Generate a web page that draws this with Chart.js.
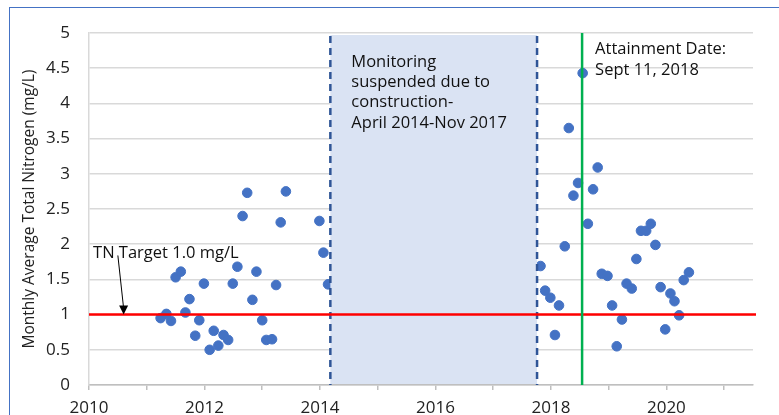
<!DOCTYPE html>
<html>
<head>
<meta charset="utf-8">
<script src="https://cdn.jsdelivr.net/npm/chart.js@4"></script>
<style>
  html, body { margin: 0; padding: 0; background: #fff; overflow: hidden; }
  #wrap { position: relative; width: 779px; height: 415px; overflow: hidden; }
  #frame { position: absolute; left: 9px; top: 7px; width: 820px; height: 460px;
           border-top: 1.5px solid #4472c4; border-left: 1.5px solid #4472c4; }
  #tnChart { position: absolute; left: 0; top: 0; }
</style>
</head>
<body>
<div id="wrap">
  <div id="frame"></div>
  <canvas id="tnChart" width="779" height="425"></canvas>
</div>
<script>
// sample dates as decimal years, monthly average TN (mg/L)
const sampleDates = [2011.24, 2011.34, 2011.42, 2011.50, 2011.59, 2011.67, 2011.74, 2011.84, 2011.91, 2011.99,
  2012.09, 2012.16, 2012.24, 2012.33, 2012.41, 2012.49, 2012.57, 2012.66, 2012.74, 2012.83,
  2012.90, 2013.00, 2013.07, 2013.17, 2013.24, 2013.32, 2013.41, 2013.99, 2014.06, 2014.14,
  2017.82, 2017.90, 2017.99, 2018.07, 2018.14, 2018.24, 2018.31, 2018.39, 2018.47, 2018.55,
  2018.64, 2018.73, 2018.81, 2018.88, 2018.98, 2019.06, 2019.14, 2019.23, 2019.31, 2019.40,
  2019.48, 2019.56, 2019.65, 2019.73, 2019.81, 2019.90, 2019.98, 2020.07, 2020.14, 2020.22,
  2020.30, 2020.39];
const tnValues = [0.95, 1.01, 0.91, 1.53, 1.61, 1.03, 1.22, 0.70, 0.92, 1.44,
  0.50, 0.77, 0.56, 0.71, 0.64, 1.44, 1.68, 2.40, 2.73, 1.21,
  1.61, 0.92, 0.64, 0.65, 1.42, 2.31, 2.75, 2.33, 1.88, 1.43,
  1.69, 1.34, 1.24, 0.71, 1.13, 1.97, 3.65, 2.69, 2.87, 4.43,
  2.29, 2.78, 3.09, 1.58, 1.55, 1.13, 0.55, 0.93, 1.44, 1.37,
  1.79, 2.19, 2.19, 2.29, 1.99, 1.39, 0.79, 1.30, 1.19, 0.99,
  1.49, 1.60];

const xMin = 2010, xMax = 2021.5;
const yMin = 0, yMax = 5, yStep = 0.5;
const tnTarget = 1.0;
const gapStart = 2014.18, gapEnd = 2017.76;   // monitoring suspended
const attainmentDate = 2018.54;

const gapText = ['Monitoring', 'suspended due to', 'construction-', 'April 2014-Nov 2017'];
const attainText = ['Attainment Date:', 'Sept 11, 2018'];
const targetText = 'TN Target 1.0 mg/L';

const FONT = '"Open Sans", "DejaVu Sans", sans-serif';

const overlays = {
  id: 'overlays',
  afterDatasetsDraw(chart) {
    const { ctx, chartArea: area, scales: { x, y } } = chart;
    const x0 = x.getPixelForValue(gapStart);
    const x1 = x.getPixelForValue(gapEnd);
    ctx.save();

    // shaded gap
    ctx.fillStyle = '#dae3f3';
    ctx.fillRect(x0, area.top + 2, x1 - x0, area.bottom - area.top - 3);

    // dashed borders
    ctx.strokeStyle = '#2f5597';
    ctx.lineWidth = 2.5;
    ctx.setLineDash([7, 5]);
    [x0, x1].forEach(px => {
      ctx.beginPath();
      ctx.moveTo(px, area.top + 3);
      ctx.lineTo(px, area.bottom);
      ctx.stroke();
    });
    ctx.setLineDash([]);

    // target line
    const ty = y.getPixelForValue(tnTarget);
    ctx.strokeStyle = '#ff0000';
    ctx.lineWidth = 2.5;
    ctx.beginPath();
    ctx.moveTo(area.left, ty);
    ctx.lineTo(area.right + 3, ty);
    ctx.stroke();

    // attainment line
    const ax = x.getPixelForValue(attainmentDate);
    ctx.strokeStyle = '#00b050';
    ctx.lineWidth = 2.5;
    ctx.beginPath();
    ctx.moveTo(ax, area.top);
    ctx.lineTo(ax, area.bottom);
    ctx.stroke();

    // arrow to target
    const tipX = x.getPixelForValue(2010.6), tailX = x.getPixelForValue(2010.5);
    const tailY = y.getPixelForValue(1.84);
    ctx.strokeStyle = '#000';
    ctx.fillStyle = '#000';
    ctx.lineWidth = 1;
    ctx.beginPath();
    ctx.moveTo(tailX, tailY);
    ctx.lineTo(tipX, ty - 6);
    ctx.stroke();
    ctx.beginPath();
    ctx.moveTo(tipX, ty);
    ctx.lineTo(tipX - 4.5, ty - 9);
    ctx.lineTo(tipX + 4.5, ty - 9);
    ctx.closePath();
    ctx.fill();

    // labels
    ctx.fillStyle = '#111';
    ctx.font = '16.5px ' + FONT;
    ctx.textBaseline = 'middle';
    ctx.textAlign = 'left';
    gapText.forEach((t, i) => ctx.fillText(t, x0 + 21, area.top + 29 + i * 20.3));
    attainText.forEach((t, i) => ctx.fillText(t, ax + 13, area.top + 16 + i * 21));
    ctx.fillText(targetText, x.getPixelForValue(2010.07), y.getPixelForValue(1.875));

    ctx.restore();
  }
};

new Chart(document.getElementById('tnChart'), {
  type: 'scatter',
  data: {
    datasets: [{
      data: sampleDates.map((d, i) => ({ x: d, y: tnValues[i] })),
      backgroundColor: '#4472c4',
      borderColor: '#4472c4',
      pointRadius: 4.8,
      pointHoverRadius: 4.8
    }]
  },
  options: {
    responsive: false,
    animation: false,
    layout: { padding: { top: 33, right: 26, left: 0, bottom: 0 } },
    plugins: { legend: { display: false }, tooltip: { enabled: false } },
    scales: {
      x: {
        type: 'linear',
        min: xMin,
        max: xMax,
        afterFit: s => { s.height = 40; },
        afterBuildTicks: s => {
          const t = [];
          for (let v = xMin; v <= xMax; v++) t.push({ value: v });
          s.ticks = t;
        },
        grid: { drawOnChartArea: false, drawTicks: true, tickLength: 5, color: '#bfbfbf', lineWidth: 1.5 },
        border: { color: '#bfbfbf', width: 1.5 },
        ticks: {
          padding: 8,
          color: '#222',
          font: { family: FONT, size: 17 },
          maxRotation: 0,
          autoSkip: false,
          callback: v => (v % 2 === 0 ? String(v) : '')
        }
      },
      y: {
        min: yMin,
        max: yMax,
        afterFit: s => { s.width = 89; },
        grid: { color: '#d9d9d9', lineWidth: 1.5, drawTicks: false },
        border: { color: '#d9d9d9', width: 1.5 },
        ticks: {
          stepSize: yStep,
          padding: 19,
          color: '#222',
          font: { family: FONT, size: 17 },
          callback: v => String(v)
        },
        title: {
          display: true,
          text: 'Monthly Average Total Nitrogen (mg/L)',
          color: '#222',
          font: { family: FONT, size: 15.5 },
          padding: { top: 20, bottom: 0 }
        }
      }
    }
  },
  plugins: [overlays]
});
</script>
</body>
</html>
